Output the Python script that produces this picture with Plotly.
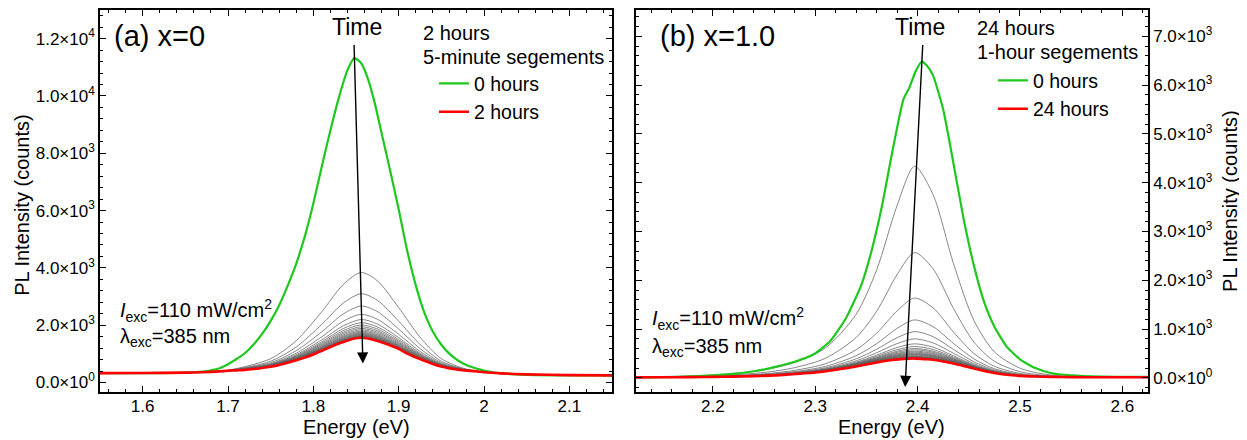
import plotly.graph_objects as go

# ---------------- data: panel (a) x=0 ----------------
energy_left = [1.55, 1.60, 1.65, 1.67, 1.69, 1.70, 1.71, 1.72, 1.73, 1.74, 1.75, 1.76, 1.77, 1.78, 1.79,
               1.80, 1.81, 1.82, 1.83, 1.84, 1.848, 1.856, 1.864, 1.872, 1.88, 1.89, 1.90, 1.91, 1.92,
               1.93, 1.94, 1.95, 1.96, 1.97, 1.98, 1.99, 2.00, 2.02, 2.05, 2.10, 2.15]
green_left = [330, 330, 345, 380, 500, 640, 820, 1030, 1330, 1700, 2150, 2700, 3380, 4150, 5100,
              6250, 7550, 8800, 9950, 10900, 11320, 11150, 10600, 9750, 8700, 7400, 6050, 4600, 3400,
              2450, 1780, 1320, 990, 760, 600, 500, 420, 320, 270, 252, 245]
red_left = [330, 335, 345, 360, 390, 410, 425, 440, 470, 505, 550, 610, 690, 780, 870,
            980, 1110, 1240, 1360, 1470, 1535, 1565, 1540, 1480, 1410, 1300, 1180, 1010, 880,
            760, 650, 560, 490, 445, 415, 395, 360, 320, 285, 258, 250]

gray_energy_left = [1.55, 1.65, 1.70, 1.75, 1.78, 1.81, 1.835, 1.856, 1.875, 1.90, 1.925, 1.95, 1.98, 2.04, 2.15]
gray_left = [
    [330, 345, 433, 833, 1463, 2475, 3422, 3840, 3553, 2616, 1584, 833, 466, 290, 250],
    [330, 345, 425, 744, 1241, 2031, 2771, 3100, 2872, 2142, 1332, 744, 451, 290, 250],
    [330, 345, 421, 693, 1112, 1773, 2392, 2670, 2477, 1867, 1186, 693, 442, 290, 250],
    [330, 345, 418, 658, 1025, 1599, 2137, 2380, 2210, 1682, 1087, 658, 436, 290, 250],
    [330, 345, 416, 636, 971, 1491, 1979, 2200, 2044, 1566, 1026, 636, 433, 290, 250],
    [330, 345, 415, 623, 938, 1425, 1882, 2090, 1943, 1496, 989, 623, 431, 290, 250],
    [330, 345, 414, 613, 914, 1377, 1812, 2010, 1869, 1445, 961, 613, 429, 290, 250],
    [330, 345, 414, 606, 894, 1338, 1754, 1945, 1810, 1403, 939, 606, 428, 290, 250],
    [330, 345, 413, 599, 878, 1305, 1706, 1890, 1759, 1368, 921, 599, 427, 290, 250],
    [330, 345, 413, 593, 863, 1275, 1662, 1840, 1713, 1336, 904, 593, 426, 290, 250],
    [330, 345, 412, 588, 849, 1248, 1622, 1795, 1672, 1307, 888, 588, 425, 290, 250],
    [330, 345, 412, 583, 839, 1227, 1592, 1760, 1639, 1285, 876, 583, 424, 290, 250],
    [330, 345, 412, 580, 829, 1208, 1563, 1728, 1610, 1264, 865, 580, 423, 290, 250],
    [330, 345, 411, 577, 821, 1193, 1541, 1703, 1587, 1248, 857, 577, 423, 290, 250],
    [330, 345, 411, 574, 815, 1179, 1521, 1680, 1566, 1234, 849, 574, 422, 290, 250],
    [330, 345, 411, 571, 808, 1166, 1502, 1658, 1546, 1220, 842, 571, 422, 290, 250],
    [330, 345, 411, 569, 802, 1154, 1484, 1638, 1527, 1207, 835, 569, 421, 290, 250],
    [330, 345, 411, 567, 797, 1144, 1470, 1622, 1512, 1196, 829, 567, 421, 290, 250],
    [330, 345, 410, 565, 794, 1137, 1460, 1610, 1501, 1189, 825, 565, 421, 290, 250],
    [330, 345, 410, 564, 790, 1130, 1449, 1598, 1490, 1181, 821, 564, 420, 290, 250],
    [330, 345, 410, 563, 787, 1124, 1440, 1588, 1481, 1175, 818, 563, 420, 290, 250],
    [330, 345, 410, 562, 784, 1118, 1431, 1578, 1472, 1168, 814, 562, 420, 290, 250],
    [330, 345, 410, 561, 782, 1114, 1425, 1571, 1466, 1164, 812, 561, 420, 290, 250],
]

left_tickvals = [0, 2000, 4000, 6000, 8000, 10000, 12000]
left_ticktext = ["0.0×10<sup>0</sup>", "2.0×10<sup>3</sup>", "4.0×10<sup>3</sup>", "6.0×10<sup>3</sup>",
                 "8.0×10<sup>3</sup>", "1.0×10<sup>4</sup>", "1.2×10<sup>4</sup>"]

# ---------------- data: panel (b) x=1.0 ----------------
energy_right = [2.125, 2.15, 2.18, 2.20, 2.22, 2.24, 2.26, 2.28, 2.30, 2.315, 2.33, 2.345, 2.355, 2.365, 2.375,
                2.386, 2.392, 2.398, 2.404, 2.409, 2.415, 2.425, 2.435, 2.445, 2.455, 2.465, 2.475, 2.487,
                2.50, 2.515, 2.53, 2.55, 2.58, 2.625]
green_right = [10, 15, 30, 50, 80, 135, 220, 330, 500, 760, 1220, 1900, 2600, 3500, 4600,
               5700, 5950, 6280, 6480, 6400, 6200, 5500, 4400, 3250, 2300, 1550, 1050, 640,
               380, 200, 100, 50, 25, 20]
red_right = [10, 12, 15, 20, 25, 35, 50, 80, 110, 150, 195, 255, 295, 335, 365,
             390, 395, 395, 390, 382, 370, 335, 295, 245, 190, 140, 100, 65,
             40, 28, 20, 15, 12, 12]

gray_energy_right = [2.125, 2.20, 2.25, 2.28, 2.31, 2.34, 2.36, 2.38, 2.397, 2.415, 2.435, 2.455, 2.475, 2.50, 2.53, 2.625]
gray_right = [
    [10, 59, 163, 317, 613, 1304, 2212, 3534, 4337, 3760, 2345, 1176, 534, 198, 59, 12],
    [10, 42, 110, 210, 401, 827, 1363, 2118, 2568, 2239, 1425, 733, 339, 127, 42, 12],
    [10, 32, 82, 154, 289, 575, 916, 1373, 1636, 1437, 940, 500, 237, 90, 32, 12],
    [10, 28, 69, 128, 235, 454, 700, 1014, 1187, 1051, 707, 388, 187, 72, 28, 12],
    [10, 26, 62, 113, 206, 390, 586, 823, 949, 846, 583, 329, 161, 62, 26, 12],
    [10, 24, 57, 104, 188, 349, 514, 703, 799, 717, 505, 291, 144, 56, 24, 12],
    [10, 23, 54, 98, 176, 322, 465, 622, 697, 630, 452, 266, 133, 52, 23, 12],
    [10, 22, 52, 95, 170, 307, 439, 578, 643, 583, 424, 252, 127, 50, 22, 12],
    [10, 22, 51, 92, 165, 296, 419, 546, 602, 548, 403, 242, 123, 48, 22, 12],
    [10, 22, 50, 91, 162, 289, 406, 524, 575, 525, 389, 235, 120, 47, 22, 12],
    [10, 22, 50, 89, 158, 281, 393, 502, 548, 502, 375, 228, 117, 46, 22, 12],
    [10, 21, 49, 88, 156, 276, 383, 486, 527, 484, 364, 223, 115, 45, 21, 12],
    [10, 21, 48, 87, 153, 270, 374, 470, 507, 466, 353, 218, 112, 44, 21, 12],
    [10, 21, 48, 86, 152, 266, 367, 458, 493, 454, 346, 215, 111, 44, 21, 12],
    [10, 21, 48, 85, 150, 263, 361, 448, 480, 443, 339, 211, 109, 43, 21, 12],
    [10, 21, 47, 84, 149, 259, 354, 437, 466, 431, 332, 208, 108, 43, 21, 12],
    [10, 21, 47, 83, 147, 255, 347, 426, 452, 419, 325, 204, 106, 42, 21, 12],
    [10, 20, 46, 83, 145, 252, 341, 415, 439, 408, 318, 201, 105, 42, 20, 12],
    [10, 20, 46, 82, 144, 250, 338, 410, 432, 402, 314, 199, 104, 41, 20, 12],
    [10, 20, 46, 82, 144, 248, 334, 404, 425, 396, 311, 198, 103, 41, 20, 12],
    [10, 20, 46, 81, 143, 246, 331, 398, 418, 390, 307, 196, 103, 41, 20, 12],
    [10, 20, 46, 81, 142, 245, 328, 394, 412, 385, 304, 194, 102, 41, 20, 12],
    [10, 20, 45, 81, 141, 243, 325, 389, 406, 379, 301, 193, 101, 40, 20, 12],
]

right_tickvals = [0, 1000, 2000, 3000, 4000, 5000, 6000, 7000]
right_ticktext = ["0.0×10<sup>0</sup>", "1.0×10<sup>3</sup>", "2.0×10<sup>3</sup>", "3.0×10<sup>3</sup>",
                  "4.0×10<sup>3</sup>", "5.0×10<sup>3</sup>", "6.0×10<sup>3</sup>", "7.0×10<sup>3</sup>"]

# arrow ends (data coordinates): tail -> head
arrow_left = dict(tail=(1.8477, 11836), head=(1.8581, 661))
arrow_right = dict(tail=(2.4051, 6853), head=(2.3878, -188))

# ---------------- styling ----------------
FONT = "Arial, Liberation Sans, sans-serif"
GREEN = "#1ec81e"
RED = "#ff0000"
GRAY = "rgba(95,95,95,0.75)"

fig = go.Figure()

for ys in gray_left:
    fig.add_trace(go.Scatter(x=gray_energy_left, y=ys, mode="lines", xaxis="x", yaxis="y",
                             line=dict(color=GRAY, width=1, shape="spline", smoothing=0.8),
                             showlegend=False, hoverinfo="skip"))
fig.add_trace(go.Scatter(x=energy_left, y=green_left, mode="lines", name="0 hours", xaxis="x", yaxis="y",
                         line=dict(color=GREEN, width=2.2, shape="spline", smoothing=0.6), legend="legend"))
fig.add_trace(go.Scatter(x=energy_left, y=red_left, mode="lines", name="2 hours", xaxis="x", yaxis="y",
                         line=dict(color=RED, width=2.6, shape="spline", smoothing=0.6), legend="legend"))

for ys in gray_right:
    fig.add_trace(go.Scatter(x=gray_energy_right, y=ys, mode="lines", xaxis="x2", yaxis="y2",
                             line=dict(color=GRAY, width=1, shape="spline", smoothing=0.8),
                             showlegend=False, hoverinfo="skip"))
fig.add_trace(go.Scatter(x=energy_right, y=green_right, mode="lines", name="0 hours", xaxis="x2", yaxis="y2",
                         line=dict(color=GREEN, width=2.2, shape="spline", smoothing=0.5), legend="legend2"))
fig.add_trace(go.Scatter(x=energy_right, y=red_right, mode="lines", name="24 hours", xaxis="x2", yaxis="y2",
                         line=dict(color=RED, width=2.6, shape="spline", smoothing=0.6), legend="legend2"))

axis_common = dict(showline=True, linecolor="black", linewidth=1.5, mirror="ticks", ticks="inside",
                   ticklen=6, tickwidth=1.2, tickcolor="black", showgrid=False, zeroline=False,
                   tickfont=dict(family=FONT, size=17, color="black"))

# the page body has an 8 px default margin, so the figure is 8 px smaller and shifted
fig.update_layout(
    width=1239, height=432,
    margin=dict(l=92, r=99, t=0, b=48),
    paper_bgcolor="white", plot_bgcolor="white",
    font=dict(family=FONT, color="black"),
    xaxis=dict(domain=[0, 0.48855], range=[1.55, 2.15], dtick=0.1, anchor="y", ticklabelstandoff=-2,
               minor=dict(dtick=0.02, ticks="inside", ticklen=3, tickcolor="black"), **axis_common),
    yaxis=dict(domain=[0, 1], range=[-330, 13000], anchor="x", tickmode="array",
               tickvals=left_tickvals, ticktext=left_ticktext,
               minor=dict(tick0=0, dtick=400, ticks="inside", ticklen=3, tickcolor="black"), **axis_common),
    xaxis2=dict(domain=[0.51145, 1], range=[2.125, 2.625], dtick=0.1, anchor="y2", ticklabelstandoff=-2,
                minor=dict(dtick=0.02, ticks="inside", ticklen=3, tickcolor="black"), **axis_common),
    yaxis2=dict(domain=[0, 1], range=[-290, 7540], anchor="x2", side="right", tickmode="array",
                tickvals=right_tickvals, ticktext=right_ticktext,
                minor=dict(tick0=0, dtick=200, ticks="inside", ticklen=3, tickcolor="black"), **axis_common),
    legend=dict(x=0.3187, y=0.858, xanchor="left", yanchor="top", bgcolor="rgba(0,0,0,0)",
                font=dict(family=FONT, size=19.5), tracegroupgap=0),
    legend2=dict(x=0.852, y=0.866, xanchor="left", yanchor="top", bgcolor="rgba(0,0,0,0)",
                 font=dict(family=FONT, size=19.5), tracegroupgap=0),
)

ann = []
def text_ann(xref, yref, x, y, text, size, xanchor="left", yanchor="middle", angle=0):
    ann.append(dict(xref=xref, yref=yref, x=x, y=y, text=text, showarrow=False, xanchor=xanchor,
                    yanchor=yanchor, textangle=angle, font=dict(family=FONT, size=size, color="black")))

text_ann("x domain", "y domain", 0.0234, 0.932, "(a) x=0", 29)
text_ann("x2 domain", "y2 domain", 0.043, 0.932, "(b) x=1.0", 29)
text_ann("x domain", "y domain", 0.502, 0.956, "Time", 23, xanchor="center")
text_ann("x2 domain", "y2 domain", 0.5547, 0.956, "Time", 23, xanchor="center")
# legend headings
text_ann("x domain", "y domain", 0.627, 0.940, "2 hours", 20)
text_ann("x domain", "y domain", 0.627, 0.877, "5-minute segements", 20)
text_ann("x2 domain", "y2 domain", 0.662, 0.953, "24 hours", 20)
text_ann("x2 domain", "y2 domain", 0.662, 0.890, "1-hour segements", 20)
text_ann("x domain", "y domain", 0.035, 0.2135, "<i>I</i><sub>exc</sub>=110 mW/cm<sup>2</sup>", 20)
text_ann("x domain", "y domain", 0.035, 0.143, "λ<sub>exc</sub>=385 nm", 20)
text_ann("x2 domain", "y2 domain", 0.0273, 0.193, "<i>I</i><sub>exc</sub>=110 mW/cm<sup>2</sup>", 20)
text_ann("x2 domain", "y2 domain", 0.0273, 0.117, "λ<sub>exc</sub>=385 nm", 20)
text_ann("paper", "paper", -0.0744, 0.49, "PL Intensity (counts)", 20, xanchor="center", angle=-90)
text_ann("paper", "paper", 1.0782, 0.50, "PL Intensity (counts)", 20, xanchor="center", angle=-90)
text_ann("x domain", "paper", 0.5, -0.0905, "Energy (eV)", 20, xanchor="center")
text_ann("x2 domain", "paper", 0.5, -0.0905, "Energy (eV)", 20, xanchor="center")

for arr, xr, yr in [(arrow_left, "x", "y"), (arrow_right, "x2", "y2")]:
    ann.append(dict(xref=xr, yref=yr, axref=xr, ayref=yr, x=arr["head"][0], y=arr["head"][1],
                    ax=arr["tail"][0], ay=arr["tail"][1], text="", showarrow=True,
                    arrowhead=2, arrowsize=1.6, arrowwidth=1.4, arrowcolor="black"))

fig.update_layout(annotations=ann)
fig.write_html("out.html")
